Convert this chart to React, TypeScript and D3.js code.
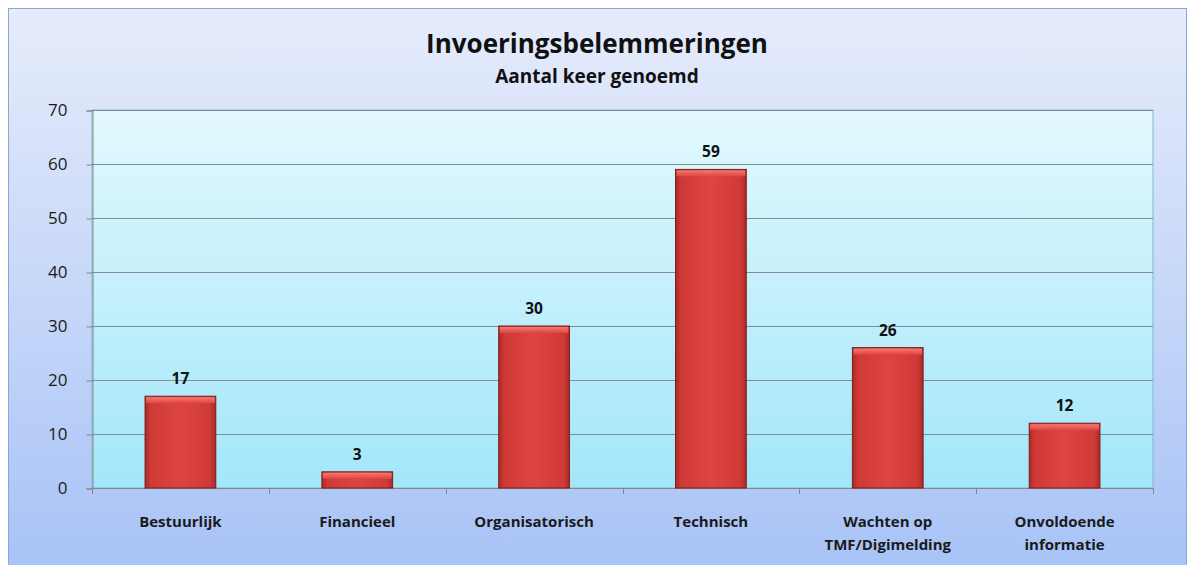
import React, { useEffect, useRef } from 'react';
import * as d3 from 'd3';

const categories: string[][] = [
  ['Bestuurlijk'],
  ['Financieel'],
  ['Organisatorisch'],
  ['Technisch'],
  ['Wachten op', 'TMF/Digimelding'],
  ['Onvoldoende', 'informatie'],
];
const values: number[] = [17, 3, 30, 59, 26, 12];
const yTicks: number[] = [0, 10, 20, 30, 40, 50, 60, 70];
const title = 'Invoeringsbelemmeringen';
const subtitle = 'Aantal keer genoemd';

const App = () => {
  const ref = useRef<SVGSVGElement>(null);

  useEffect(() => {
    const svg = d3.select(ref.current);
    svg.selectAll('*').remove();

    const W = 1195, H = 565;
    const plot = { left: 92, top: 110, right: 1153, bottom: 488 };
    const font = "'Open Sans', 'Liberation Sans', sans-serif";

    const defs = svg.append('defs');
    const outer = defs.append('linearGradient').attr('id', 'outerBg')
      .attr('x1', 0).attr('y1', 0).attr('x2', 0).attr('y2', 1);
    outer.append('stop').attr('offset', '0%').attr('stop-color', '#e6ecfb');
    outer.append('stop').attr('offset', '100%').attr('stop-color', '#a8c3f6');

    const inner = defs.append('linearGradient').attr('id', 'plotBg')
      .attr('x1', 0).attr('y1', 0).attr('x2', 0).attr('y2', 1);
    inner.append('stop').attr('offset', '0%').attr('stop-color', '#e2f9fe');
    inner.append('stop').attr('offset', '100%').attr('stop-color', '#a3e6fa');

    const barH = defs.append('linearGradient').attr('id', 'barFill')
      .attr('x1', 0).attr('y1', 0).attr('x2', 1).attr('y2', 0);
    barH.append('stop').attr('offset', '0%').attr('stop-color', '#a82a27');
    barH.append('stop').attr('offset', '8%').attr('stop-color', '#cf3a36');
    barH.append('stop').attr('offset', '50%').attr('stop-color', '#de4541');
    barH.append('stop').attr('offset', '92%').attr('stop-color', '#cf3a36');
    barH.append('stop').attr('offset', '100%').attr('stop-color', '#a82a27');

    const barTop = defs.append('linearGradient').attr('id', 'barTop')
      .attr('x1', 0).attr('y1', 0).attr('x2', 0).attr('y2', 1);
    barTop.append('stop').attr('offset', '0%').attr('stop-color', '#f27a72');
    barTop.append('stop').attr('offset', '100%').attr('stop-color', '#de4541');

    // chart background
    svg.append('rect').attr('x', 8.5).attr('y', 8.5).attr('width', W - 17).attr('height', H - 8)
      .attr('fill', 'url(#outerBg)').attr('stroke', '#86a8d4').attr('stroke-width', 1);

    const x = d3.scaleBand<number>().domain(d3.range(categories.length))
      .range([plot.left, plot.right]).paddingInner(0.6).paddingOuter(0.3);
    const y = d3.scaleLinear().domain([0, 70]).range([plot.bottom, plot.top]);

    // plot area
    svg.append('rect').attr('x', plot.left).attr('y', plot.top)
      .attr('width', plot.right - plot.left).attr('height', plot.bottom - plot.top)
      .attr('fill', 'url(#plotBg)').attr('stroke', '#7fb9c9').attr('stroke-width', 1);

    // gridlines
    svg.append('g').selectAll('line').data(yTicks.filter(t => t > 0)).join('line')
      .attr('x1', plot.left).attr('x2', plot.right)
      .attr('y1', d => Math.round(y(d)) + 0.5).attr('y2', d => Math.round(y(d)) + 0.5)
      .attr('stroke', '#7f8f93').attr('stroke-width', 1);

    // y axis
    const yAxis = svg.append('g').attr('transform', `translate(${plot.left + 0.5},0.5)`)
      .call(d3.axisLeft(y).tickValues(yTicks).tickSize(6).tickPadding(19));
    yAxis.select('.domain').attr('stroke', '#868686');
    yAxis.selectAll('line').attr('stroke', '#868686');
    yAxis.selectAll('text').attr('font-family', font).attr('font-size', 17).attr('fill', '#1a1a1a');

    // x axis
    const xTickPos = d3.range(categories.length + 1).map(i => plot.left + i * (plot.right - plot.left) / categories.length);
    svg.append('line').attr('x1', plot.left).attr('x2', plot.right)
      .attr('y1', plot.bottom + 0.5).attr('y2', plot.bottom + 0.5).attr('stroke', '#868686');
    svg.append('g').selectAll('line').data(xTickPos).join('line')
      .attr('x1', d => Math.round(d) + 0.5).attr('x2', d => Math.round(d) + 0.5)
      .attr('y1', plot.bottom).attr('y2', plot.bottom + 6).attr('stroke', '#868686');

    // bars
    const bars = svg.append('g').selectAll('g').data(values).join('g');
    bars.append('rect')
      .attr('x', (_, i) => x(i)!).attr('y', d => y(d))
      .attr('width', x.bandwidth()).attr('height', d => y(0) - y(d))
      .attr('fill', 'url(#barFill)').attr('stroke', '#7e1d1b').attr('stroke-width', 1);
    bars.append('rect')
      .attr('x', (_, i) => x(i)! + 1).attr('y', d => y(d) + 1)
      .attr('width', x.bandwidth() - 2).attr('height', d => Math.min(6, y(0) - y(d) - 2))
      .attr('fill', 'url(#barTop)');

    // value labels
    svg.append('g').selectAll('text').data(values).join('text')
      .attr('x', (_, i) => x(i)! + x.bandwidth() / 2).attr('y', d => y(d) - 12)
      .attr('text-anchor', 'middle').attr('font-family', font).attr('font-weight', 700)
      .attr('font-size', 15.5).attr('fill', '#111').text(d => d);

    // category labels
    const cat = svg.append('g').selectAll('text').data(categories).join('text')
      .attr('x', (_, i) => x(i)! + x.bandwidth() / 2).attr('y', 527)
      .attr('text-anchor', 'middle').attr('font-family', font).attr('font-weight', 700)
      .attr('font-size', 15).attr('fill', '#1a1a1a');
    cat.selectAll('tspan').data(d => d).join('tspan')
      .attr('x', function () { return (this.parentNode as SVGTextElement).getAttribute('x'); })
      .attr('dy', (_, j) => (j === 0 ? 0 : 23)).text(d => d);

    // titles
    svg.append('text').attr('x', 597).attr('y', 53).attr('text-anchor', 'middle')
      .attr('font-family', font).attr('font-weight', 700).attr('font-size', 26)
      .attr('fill', '#111').text(title);
    svg.append('text').attr('x', 597).attr('y', 83).attr('text-anchor', 'middle')
      .attr('font-family', font).attr('font-weight', 700).attr('font-size', 19)
      .attr('fill', '#111').text(subtitle);
  }, []);

  return <svg ref={ref} width={1195} height={565} style={{ display: 'block', position: 'absolute', left: 0, top: 0 }} />;
};

export default App;
